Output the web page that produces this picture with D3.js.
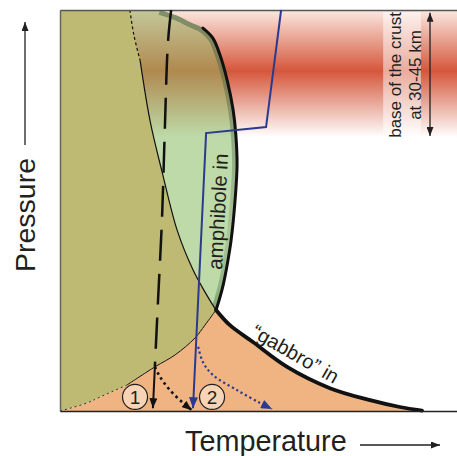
<!DOCTYPE html>
<html>
<head>
<meta charset="utf-8">
<script src="https://cdn.jsdelivr.net/npm/d3@7"></script>
<style>
  body { margin: 0; background: #fff; }
  text { font-family: "Liberation Sans", Arial, Helvetica, sans-serif; fill: #231f20; }
</style>
</head>
<body>
<div id="chart"></div>
<script>
// schematic P-T diagram, arbitrary units 0-100 on both axes
var olivePhaseEdge = [[17.6,100],[18.6,93.8],[20.2,87.3],[22.7,72.3],[25.9,58.9],[29.5,45.1],[33.5,35.2],[36.5,29.7],[39.3,25.2]];
var oliveBase = [[39.3,25.2],[36.5,21.4],[34.0,18.2],[29.0,14.0],[23.9,11.0],[16.9,6.5],[10.1,3.5],[6.8,2.0],[0,0]];
var amphiboleIn = [[25.2,100],[29.7,98.5],[32.7,97.0],[36.0,95.5],[38.5,93.0],[40.3,88.8],[42.1,82.5],[43.6,75.1],[44.3,68.8],[44.6,61.3],[44.1,52.6],[43.1,42.6],[42.1,36.4],[41.1,31.4],[40.1,27.7],[39.3,25.2]];
var gabbroIn = [[39.3,25.2],[42.8,21.4],[48.6,17.2],[57.2,11.0],[68.0,5.7],[78.1,2.7],[85.6,1.0],[91.2,0.1]];

var path1 = [[28.0,100],[27.2,92.0],[26.4,70.1],[25.7,48.1],[24.7,27.7],[23.9,11.0]];
var path1Drop = [[23.9,11.0],[23.4,0.7]];
var path1Dotted = [[23.9,11.0],[25.2,8.5],[27.7,5.2],[31.0,2.0],[33.2,0.2]];
var path2 = [[55.7,100],[51.9,70.8],[36.8,69.3],[33.5,0.7]];
var path2Dotted = [[34.8,16.0],[36.0,12.2],[38.5,9.0],[44.6,5.2],[50.4,2.0],[53.4,0.5]];
var pathLabels = ["1", "2"];
var pathLabelPos = [[18.9,3.5],[38.3,3.5]];

// base of the crust band (top, middle, bottom in pressure units)
var crustBand = [100, 85, 68.3];
var crustLabel = ["base of the crust", "at 30-45 km"];

var W = 457, H = 456;
var x = d3.scaleLinear().domain([0, 100]).range([60, 457]);
var y = d3.scaleLinear().domain([0, 100]).range([411, 10]);

var svg = d3.select("#chart").append("svg").attr("width", W).attr("height", H);
var defs = svg.append("defs");

var curve = d3.line().x(d => x(d[0])).y(d => y(d[1])).curve(d3.curveCatmullRom.alpha(0.5));
var straight = d3.line().x(d => x(d[0])).y(d => y(d[1]));

// glue several curves into one closed outline
function outline() {
  var parts = Array.from(arguments);
  return parts.map((p, i) => i ? curve(p).replace(/^M/, "L") : curve(p)).join("") + "Z";
}

var greenShape = outline(olivePhaseEdge, amphiboleIn.slice().reverse());
var oliveShape = outline([[0,100],[17.6,100]], olivePhaseEdge, oliveBase);
var orangeShape = outline(oliveBase.slice().reverse(), gabbroIn, [[91.2,0],[0,0]]);

// gradients
var g1 = defs.append("linearGradient").attr("id", "crust")
  .attr("gradientUnits", "userSpaceOnUse")
  .attr("x1", 0).attr("x2", 0).attr("y1", y(crustBand[0])).attr("y2", y(crustBand[2]));
g1.append("stop").attr("offset", 0).attr("stop-color", "#fbe8e1");
g1.append("stop").attr("offset", 0.48).attr("stop-color", "#d5573b");
g1.append("stop").attr("offset", 1).attr("stop-color", "#ffffff");

var g2 = defs.append("linearGradient").attr("id", "amphGrad")
  .attr("gradientUnits", "userSpaceOnUse")
  .attr("x1", 0).attr("x2", 0).attr("y1", y(crustBand[0])).attr("y2", y(crustBand[2]));
g2.append("stop").attr("offset", 0).attr("stop-color", "#c3c899");
g2.append("stop").attr("offset", 0.48).attr("stop-color", "#b0894f");
g2.append("stop").attr("offset", 1).attr("stop-color", "#bddaa8");

// inner shadow of the amphibole curve: strong at the top, faint lower down
var g3 = defs.append("linearGradient").attr("id", "shadowGrad")
  .attr("gradientUnits", "userSpaceOnUse")
  .attr("x1", 0).attr("x2", 0).attr("y1", y(100)).attr("y2", y(25));
g3.append("stop").attr("offset", 0).attr("stop-color", "rgb(75,100,70)").attr("stop-opacity", 0.55);
g3.append("stop").attr("offset", 0.45).attr("stop-color", "rgb(75,100,70)").attr("stop-opacity", 0.4);
g3.append("stop").attr("offset", 0.75).attr("stop-color", "rgb(75,100,70)").attr("stop-opacity", 0.15);
g3.append("stop").attr("offset", 1).attr("stop-color", "rgb(60,110,60)").attr("stop-opacity", 0.45);

defs.append("clipPath").attr("id", "amphClip").append("path").attr("d", greenShape);

function marker(id, color, w, l) {
  defs.append("marker").attr("id", id)
    .attr("viewBox", "0 0 10 10").attr("refX", 10).attr("refY", 5)
    .attr("markerUnits", "userSpaceOnUse")
    .attr("markerWidth", l).attr("markerHeight", w)
    .attr("orient", "auto-start-reverse")
    .attr("preserveAspectRatio", "none")
    .append("path").attr("d", "M0,0L10,5L0,10Z").attr("fill", color);
}
marker("arrBlack", "#111", 8, 10);
marker("arrBlue", "#2b3a8f", 9, 11);
marker("arrThin", "#231f20", 7, 9);

// crust band
svg.append("rect")
  .attr("x", x(0)).attr("width", x(100) - x(0))
  .attr("y", y(crustBand[0])).attr("height", y(crustBand[2]) - y(crustBand[0]))
  .attr("fill", "url(#crust)");

// fields
svg.append("path").attr("d", greenShape).attr("fill", "url(#amphGrad)");
svg.append("path").attr("d", curve(amphiboleIn))
  .attr("clip-path", "url(#amphClip)")
  .attr("fill", "none").attr("stroke", "url(#shadowGrad)").attr("stroke-width", 10);
svg.append("path").attr("d", oliveShape).attr("fill", "#beb973");
svg.append("path").attr("d", orangeShape).attr("fill", "#f0b382");

// thin phase boundaries
svg.append("path").attr("d", curve(olivePhaseEdge.slice(0, 3)))
  .attr("fill", "none").attr("stroke", "#111").attr("stroke-width", 1.2).attr("stroke-dasharray", "3,2.5");
svg.append("path").attr("d", curve(olivePhaseEdge.slice(2)))
  .attr("fill", "none").attr("stroke", "#111").attr("stroke-width", 1.2);
svg.append("path").attr("d", curve(oliveBase.slice(0, 6)))
  .attr("fill", "none").attr("stroke", "#111").attr("stroke-width", 1);
svg.append("path").attr("d", curve(oliveBase.slice(5)))
  .attr("fill", "none").attr("stroke", "#333").attr("stroke-width", 1).attr("stroke-dasharray", "2,3");

// thick phase-in curves
svg.append("path").attr("d", curve(amphiboleIn.slice(3)))
  .attr("fill", "none").attr("stroke", "#111").attr("stroke-width", 3).attr("stroke-linecap", "round");
svg.append("path").attr("d", curve(gabbroIn))
  .attr("fill", "none").attr("stroke", "#111").attr("stroke-width", 3.8).attr("stroke-linecap", "round");

// frame
svg.append("g").attr("transform", "translate(0," + y(100) + ")")
  .call(d3.axisTop(x).tickValues([]).tickSizeOuter(0))
  .select(".domain").attr("stroke", "#555").attr("stroke-width", 1.5);
svg.append("g").attr("transform", "translate(" + x(0) + ",0)")
  .call(d3.axisLeft(y).tickValues([]).tickSizeOuter(0))
  .select(".domain").attr("stroke", "#666").attr("stroke-width", 1.5);
svg.append("g").attr("transform", "translate(0," + y(0) + ")")
  .call(d3.axisBottom(x).tickValues([]).tickSizeOuter(0))
  .select(".domain").attr("stroke", "#222").attr("stroke-width", 1.5);

// crust label
svg.append("rect")
  .attr("x", x(81.4)).attr("width", x(90.9) - x(81.4))
  .attr("y", y(99.5)).attr("height", y(68.6) - y(99.5))
  .attr("fill", "#fff").attr("opacity", 0.5);
crustLabel.forEach(function (t, i) {
  svg.append("text")
    .attr("transform", "translate(" + (x(86.0) + i * 20) + "," + y(83.8) + ") rotate(-90)")
    .attr("text-anchor", "middle").attr("font-size", 17).text(t);
});
svg.append("line")
  .attr("x1", x(93.2)).attr("x2", x(93.2)).attr("y1", y(99.3)).attr("y2", y(68.6))
  .attr("stroke", "#231f20").attr("stroke-width", 1.3)
  .attr("marker-start", "url(#arrThin)").attr("marker-end", "url(#arrThin)");

// P-T paths
svg.append("path").attr("d", curve(path1))
  .attr("fill", "none").attr("stroke", "#111").attr("stroke-width", 2.5).attr("stroke-dasharray", "31,13");
svg.append("path").attr("d", straight(path1Drop))
  .attr("fill", "none").attr("stroke", "#111").attr("stroke-width", 2)
  .attr("marker-end", "url(#arrBlack)");
svg.append("path").attr("d", curve(path1Dotted))
  .attr("fill", "none").attr("stroke", "#111").attr("stroke-width", 2.6).attr("stroke-dasharray", "2.6,3.4")
  .attr("marker-end", "url(#arrBlack)");
svg.append("path").attr("d", straight(path2))
  .attr("fill", "none").attr("stroke", "#2b3a8f").attr("stroke-width", 2)
  .attr("stroke-linejoin", "miter")
  .attr("marker-end", "url(#arrBlue)");
svg.append("path").attr("d", curve(path2Dotted))
  .attr("fill", "none").attr("stroke", "#2b3a8f").attr("stroke-width", 2.2).attr("stroke-dasharray", "2.2,2.8")
  .attr("marker-end", "url(#arrBlue)");

var lab = svg.selectAll(".pl").data(pathLabels).enter().append("g")
  .attr("transform", (d, i) => "translate(" + x(pathLabelPos[i][0]) + "," + y(pathLabelPos[i][1]) + ")");
lab.append("circle").attr("r", 12.5).attr("fill", "#f7d4b6").attr("stroke", "#231f20").attr("stroke-width", 1.2);
lab.append("text").attr("text-anchor", "middle").attr("dy", "0.36em").attr("font-size", 19).text(d => d);

// field labels
svg.append("text")
  .attr("transform", "translate(225,212) rotate(-87)")
  .attr("text-anchor", "middle").attr("font-size", 20.5).text("amphibole in");
svg.append("text")
  .attr("transform", "translate(292,360) rotate(30)")
  .attr("text-anchor", "middle").attr("font-size", 20).text("\u201cgabbro\u201d in");

// axis titles
svg.append("text")
  .attr("transform", "translate(35,215) rotate(-90)")
  .attr("text-anchor", "middle").attr("font-size", 28.5).text("Pressure");
svg.append("line").attr("x1", 25).attr("x2", 25).attr("y1", 145).attr("y2", 22)
  .attr("stroke", "#231f20").attr("stroke-width", 1.3).attr("marker-end", "url(#arrThin)");
svg.append("text")
  .attr("x", 185).attr("y", 451)
  .attr("font-size", 28.8).text("Temperature");
svg.append("line").attr("x1", 360).attr("x2", 440).attr("y1", 445).attr("y2", 445)
  .attr("stroke", "#231f20").attr("stroke-width", 1.3).attr("marker-end", "url(#arrThin)");
</script>
</body>
</html>
